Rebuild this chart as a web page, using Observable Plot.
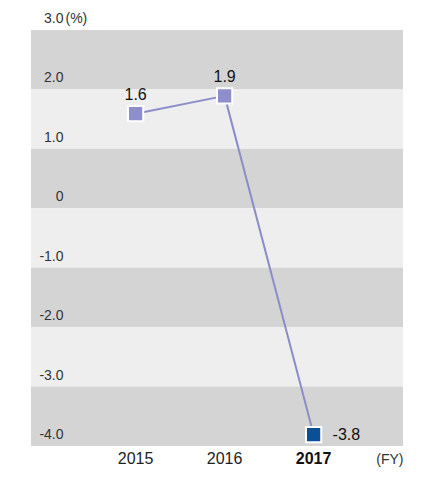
<!DOCTYPE html>
<html>
<head>
<meta charset="utf-8">
<script src="https://cdn.jsdelivr.net/npm/d3@7"></script>
<script src="https://cdn.jsdelivr.net/npm/@observablehq/plot@0.6"></script>
<style>
  html, body { margin: 0; padding: 0; background: #fff; }
  svg { display: block; }
</style>
</head>
<body>
<div id="chart"></div>
<script>
const years = [2015, 2016, 2017];
const values = [1.6, 1.9, -3.8];
const yTicks = [3, 2, 1, 0, -1, -2, -3, -4];
const yTickLabels = ["3.0", "2.0", "1.0", "0", "-1.0", "-2.0", "-3.0", "-4.0"];
const xTickLabels = ["2015", "2016", "2017"];
const valueLabels = ["1.6", "1.9", "-3.8"];
const highlightYear = 2017;

const data = years.map((year, i) => ({year, value: values[i], label: valueLabels[i], tick: xTickLabels[i]}));
const bands = yTicks.slice(0, -1).map((t, i) => ({top: t, bottom: yTicks[i + 1], dark: i % 2 === 0}));
const ticks = yTicks.map((t, i) => ({t, label: yTickLabels[i]}));

const LAV = "#8e8fca";
const NAVY = "#0b4f97";
const FONT = "'Liberation Sans', Arial, sans-serif";
const isHi = d => d.year === highlightYear;

const chart = Plot.plot({
  width: 434,
  height: 477,
  marginTop: 30,
  marginBottom: 31,
  marginLeft: 31,
  marginRight: 31,
  style: {fontFamily: FONT, background: "#fff"},
  x: {domain: [2013.83, 2018.01], axis: null},
  y: {domain: [-4, 3], axis: null},
  marks: [
    Plot.rect(bands, {y1: "top", y2: "bottom", fill: d => d.dark ? "#d4d4d4" : "#eeeeee"}),
    Plot.text(ticks, {y: "t", text: "label", frameAnchor: "left", dx: 32, dy: -12, textAnchor: "end", fontSize: 14, fill: "#333"}),
    Plot.text(ticks.filter(d => d.t === yTicks[0]), {y: "t", text: () => "(%)", frameAnchor: "left", dx: 34, dy: -12, textAnchor: "start", fontSize: 14, fill: "#333"}),
    Plot.line(data, {x: "year", y: "value", stroke: "#8c8dc8", strokeWidth: 2}),
    Plot.dot(data, {x: "year", y: "value", symbol: "square", r: 8.6, fill: d => isHi(d) ? NAVY : LAV, stroke: "#fff", strokeWidth: 2}),
    Plot.text(data.filter(d => !isHi(d)), {x: "year", y: "value", text: "label", dy: -19, fontSize: 16, fill: "#111"}),
    Plot.text(data.filter(isHi), {x: "year", y: "value", text: "label", dx: 19, textAnchor: "start", fontSize: 16, fill: "#111"}),
    Plot.text(data.filter(d => !isHi(d)), {x: "year", text: "tick", frameAnchor: "bottom", dy: 17, fontSize: 16, fill: "#222"}),
    Plot.text(data.filter(isHi), {x: "year", text: "tick", frameAnchor: "bottom", dy: 17, fontSize: 16, fill: "#111", fontWeight: "bold"}),
    Plot.text(["(FY)"], {text: d => d, frameAnchor: "bottom-right", dy: 17, textAnchor: "end", fontSize: 14, fill: "#333"})
  ]
});
document.getElementById("chart").appendChild(chart);
</script>
</body>
</html>
